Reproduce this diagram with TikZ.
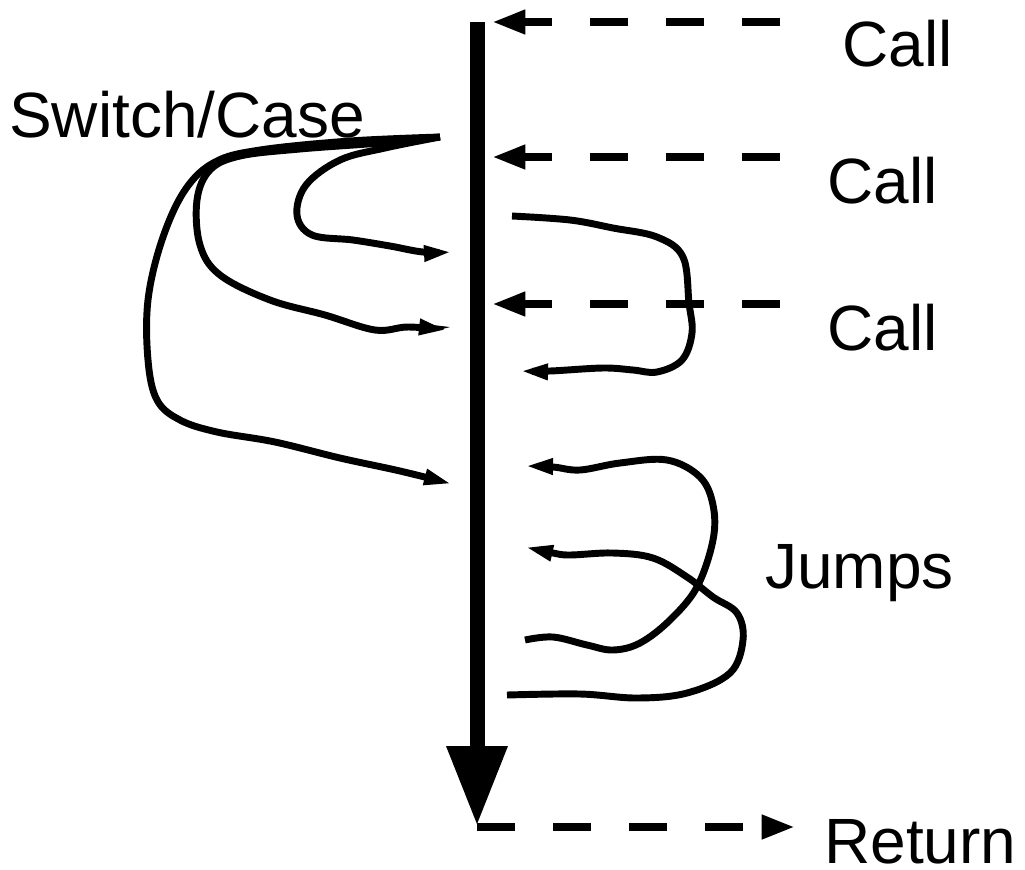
\documentclass[tikz,border=0pt]{standalone}
\usepackage{fontspec}
\setmainfont{Liberation Sans}
\usetikzlibrary{arrows.meta}
\begin{document}
\begin{tikzpicture}[x=0.75pt,y=-0.75pt,
  lbl/.style={inner sep=0pt,anchor=base west,font=\fontsize{48}{57}\selectfont},
  flow/.style={line width=11.25pt,-{Triangle[length=60pt,width=43pt]}},
  calldash/.style={line width=6pt,dash pattern=on 28.5pt off 28.5pt,-{Triangle[length=25pt,width=17pt]}},
  jump/.style={line width=5.2pt,line cap=butt,-{Triangle[length=21pt,width=11pt]}}]
\useasboundingbox (0,0) rectangle (1025,869);
% main flow
\coordinate (top) at (477,22);
\coordinate (bot) at (477,826);
\draw[flow] (top) -- (bot);
% calls
\coordinate (c1s) at (780,22);  \coordinate (c1e) at (492,22);
\coordinate (c2s) at (780,157); \coordinate (c2e) at (492,157);
\coordinate (c3s) at (780,304); \coordinate (c3e) at (492,304);
\coordinate (rs) at (477,827);  \coordinate (re) at (795,827);
\draw[calldash] (c1s) -- (c1e);
\draw[calldash] (c2s) -- (c2e);
\draw[calldash] (c3s) -- (c3e);
\draw[calldash] (rs) -- (re);
% labels
\node[lbl] (call1) at (842,66) {Call};
\node[lbl] (call2) at (827,203) {Call};
\node[lbl] (call3) at (827,350) {Call};
\node[lbl] (jumps) at (765,588) {Jumps};
\node[lbl] (ret) at (824,863) {Return};
\node[lbl] (sw) at (9,137) {Switch/Case};
% switch/case branches
\coordinate (src) at (440,137);
\draw[jump] plot[smooth,tension=0.6] coordinates {(src) (385,148) (340,160) (306,185) (297,215) (312,235) (353,240) (390,246) (423,252) (452,252)};
\draw[jump] plot[smooth,tension=0.6] coordinates {(src) (380,143) (300,149) (240,156) (210,170) (197,200) (200,245) (220,275) (270,300) (325,315) (375,330) (408,327) (447,330)};
\draw[jump] plot[smooth,tension=0.6] coordinates {(src) (350,141) (260,150) (215,162) (185,190) (162,240) (148,300) (148,360) (157,400) (180,420) (217,432) (275,442) (340,458) (400,471) (452,484)};
% jump near calls
\draw[jump] plot[smooth,tension=0.6] coordinates {(512,216) (570,220) (613,228) (657,237) (683,257) (689,303) (692,333) (682,360) (657,372) (633,370) (603,368) (550,371) (520,371)};
% jumps below
\draw[jump] plot[smooth,tension=0.6] coordinates {(525,640) (553,637) (587,645) (613,650) (640,643) (670,620) (697,587) (713,540) (713,505) (700,477) (667,460) (620,463) (580,470) (553,467) (525,466)};
\draw[jump] plot[smooth,tension=0.6] coordinates {(507,695) (580,694) (637,698) (687,693) (730,673) (743,640) (737,613) (713,597) (687,577) (653,558) (613,553) (570,555) (553,553) (525,547)};
\end{tikzpicture}
\end{document}
